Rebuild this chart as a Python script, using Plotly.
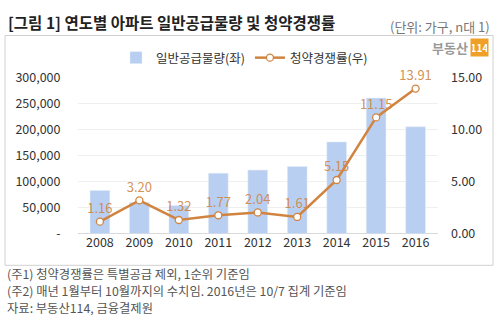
import plotly.graph_objects as go

years = ["2008", "2009", "2010", "2011", "2012", "2013", "2014", "2015", "2016"]
supply = [83000, 60000, 54000, 116000, 122000, 129000, 176000, 260000, 205000]
ratio = [1.16, 3.20, 1.32, 1.77, 2.04, 1.61, 5.15, 11.15, 13.91]
left_ticks = [0, 50000, 100000, 150000, 200000, 250000, 300000]
left_labels = ["-", "50,000", "100,000", "150,000", "200,000", "250,000", "300,000"]
right_ticks = [0, 5, 10, 15]
right_labels = ["0.00", "5.00", "10.00", "15.00"]
notes = [
    "(주1) 청약경쟁률은 특별공급 제외, 1순위 기준임",
    "(주2) 매년 1월부터 10월까지의 수치임. 2016년은 10/7 집계 기준임",
    "자료: 부동산114, 금융결제원",
]

W, H = 500, 327
FONT = "Noto Sans CJK KR"
ORANGE = "#D08440"
BLUE = "#B9CFF1"

def px(x):
    return x / W

def py(y):
    return 1 - y / H

fig = go.Figure()
fig.add_trace(go.Bar(
    x=years, y=supply, name="일반공급물량(좌)", marker_color=BLUE,
    width=0.5, yaxis="y", hoverinfo="skip",
))
fig.add_trace(go.Scatter(
    x=years, y=ratio, name="청약경쟁률(우)", yaxis="y2", mode="lines+markers+text",
    line=dict(color=ORANGE, width=2.5),
    marker=dict(size=7, color="white", line=dict(color=ORANGE, width=1.3)),
    text=[f"{v:.2f}" for v in ratio], textposition="top center",
    textfont=dict(family=FONT, size=13, color="rgba(208,132,64,0.9)"),
    cliponaxis=False, hoverinfo="skip",
))

fig.update_layout(
    width=W, height=H, margin=dict(l=0, r=0, t=0, b=0),
    paper_bgcolor="white", plot_bgcolor="white",
    font=dict(family=FONT, color="#333"),
    bargap=0.5,
    xaxis=dict(domain=[px(77.5), px(438)], showgrid=False, zeroline=False,
               ticks="", tickfont=dict(size=12.5, color="#333"), showline=False),
    yaxis=dict(domain=[py(236.5), py(70.3)], range=[0, 300000],
               tickvals=left_ticks, ticktext=left_labels,
               showgrid=True, gridcolor="#EFEFEF", gridwidth=1,
               zeroline=True, zerolinecolor="#D9D9D9", zerolinewidth=1,
               tickfont=dict(size=12.5, color="#333"), ticks="", ticklabelstandoff=16),
    yaxis2=dict(overlaying="y", side="right", range=[0, 15],
                tickvals=right_ticks, ticktext=right_labels, showgrid=False,
                zeroline=False, tickfont=dict(size=12.5, color="#333"),
                ticklabelstandoff=12),
    legend=dict(orientation="h", x=px(116), y=py(34), xanchor="left", yanchor="top",
                font=dict(size=12.5, color="#333"), bgcolor="rgba(0,0,0,0)",
                itemwidth=30, tracegroupgap=0),
    showlegend=True,
)

shapes = [
    dict(type="rect", xref="paper", yref="paper", x0=px(5), x1=px(493),
         y0=py(270), y1=py(26), line=dict(color="#D0D0D0", width=1)),
]
fig.update_layout(shapes=shapes)

ann = [
    dict(text="<b>[그림 1] 연도별 아파트 일반공급물량 및 청약경쟁률</b>", x=px(6), y=py(12),
         xanchor="left", yanchor="middle", font=dict(size=15.5, color="#222", family=FONT)),
    dict(text="(단위: 가구, n대 1)", x=px(492), y=py(16), xanchor="right", yanchor="middle",
         font=dict(size=13, color="#777", family=FONT)),
    dict(text="<b>부동산</b>", x=px(470), y=py(39), xanchor="right", yanchor="middle",
         font=dict(size=13, color="#9A9A9A", family=FONT)),
    dict(text="<b>114</b>", x=px(479.5), y=py(39), xanchor="center", yanchor="middle",
         font=dict(size=10, color="white", family=FONT), bgcolor="#EFA028",
         borderpad=1, width=15, height=15),
]
for i, line in enumerate(notes):
    ann.append(dict(text=line, x=px(5), y=py(279.5 + 18 * i), xanchor="left",
                    yanchor="middle", font=dict(size=12.3, color="#555", family=FONT)))
for a in ann:
    a.update(xref="paper", yref="paper", showarrow=False)
fig.update_layout(annotations=ann)

fig.write_html("out.html")
